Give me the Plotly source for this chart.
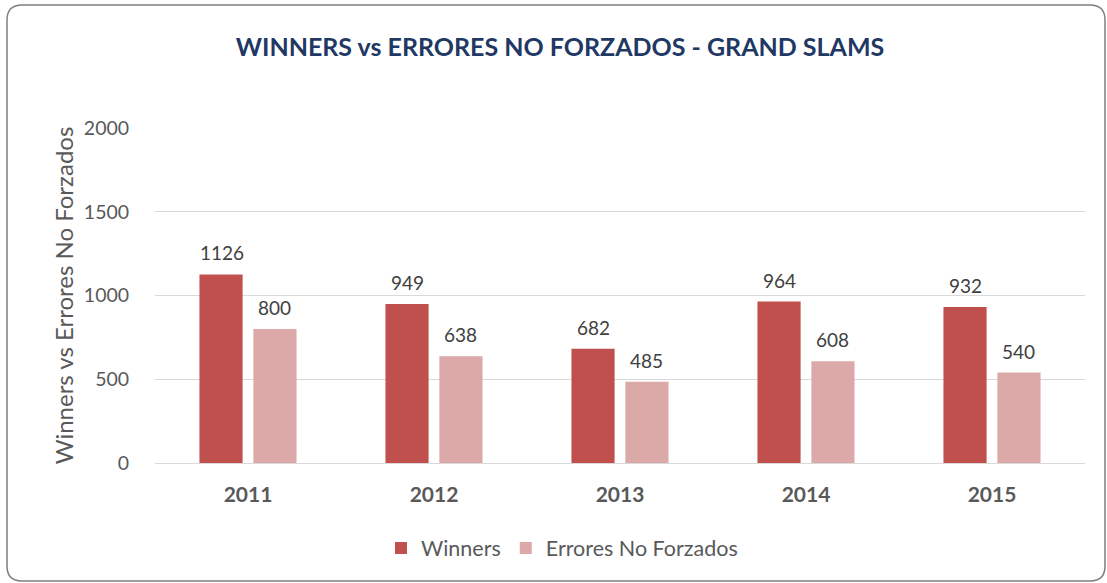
import plotly.graph_objects as go

years = ["2011", "2012", "2013", "2014", "2015"]
winners = [1126, 949, 682, 964, 932]
errores = [800, 638, 485, 608, 540]
series_names = ["Winners", "Errores No Forzados"]
y_ticks = [0, 500, 1000, 1500, 2000]

FONT = "Lato"
C_WIN = "#C0504D"
C_ERR = "#DAA9A8"
GRAY = "#595959"

W, H = 1107, 583
L, R, T, B = 155, 22, 128, 120
pw, ph = W - L - R, H - T - B

fig = go.Figure()
fig.add_trace(go.Bar(x=years, y=winners, name=series_names[0], marker_color=C_WIN,
                     marker_line_width=0))
fig.add_trace(go.Bar(x=years, y=errores, name=series_names[1], marker_color=C_ERR,
                     marker_line_width=0))

annotations = []
for i, v in enumerate(winners):
    annotations.append(dict(x=i, y=v, xref="x", yref="y", text=str(v), showarrow=False,
                            xshift=-26.5, yshift=8, yanchor="bottom",
                            font=dict(family=FONT, size=19, color="#404040")))
for i, v in enumerate(errores):
    annotations.append(dict(x=i, y=v, xref="x", yref="y", text=str(v), showarrow=False,
                            xshift=26.5, yshift=8, yanchor="bottom",
                            font=dict(family=FONT, size=19, color="#404040")))

# rounded border box in paper coordinates
def px2x(p):
    return (p - L) / pw

def px2y(p):
    return (H - B - p) / ph

x0, x1, y0, y1, r = 7, 1105, 5, 581, 15
path = (f"M {px2x(x0 + r)},{px2y(y0)} L {px2x(x1 - r)},{px2y(y0)} "
        f"Q {px2x(x1)},{px2y(y0)} {px2x(x1)},{px2y(y0 + r)} "
        f"L {px2x(x1)},{px2y(y1 - r)} Q {px2x(x1)},{px2y(y1)} {px2x(x1 - r)},{px2y(y1)} "
        f"L {px2x(x0 + r)},{px2y(y1)} Q {px2x(x0)},{px2y(y1)} {px2x(x0)},{px2y(y1 - r)} "
        f"L {px2x(x0)},{px2y(y0 + r)} Q {px2x(x0)},{px2y(y0)} {px2x(x0 + r)},{px2y(y0)} Z")

fig.update_layout(
    width=W, height=H,
    margin=dict(l=L, r=R, t=T, b=B),
    paper_bgcolor="white", plot_bgcolor="white",
    barmode="group", bargap=0.42, bargroupgap=0.2,
    title=dict(text="<b>WINNERS vs ERRORES NO FORZADOS - GRAND SLAMS</b>",
               x=560 / W, xanchor="center", xref="container",
               y=1 - 47 / H, yanchor="middle",
               font=dict(family=FONT, size=25, color="#1F3864")),
    font=dict(family=FONT, color=GRAY),
    yaxis=dict(range=[0, 2000], tickvals=y_ticks, showgrid=True, gridcolor="#D9D9D9",
               gridwidth=1.3, zeroline=False, showline=False,
               ticks="outside", ticklen=21, tickcolor="rgba(0,0,0,0)",
               tickfont=dict(family=FONT, size=19.5, color=GRAY),
               title=dict(text="Winners vs Errores No Forzados", standoff=3,
                          font=dict(family=FONT, size=24, color=GRAY))),
    xaxis=dict(type="category", range=[-0.5, 4.5], showline=True, linecolor="#D9D9D9",
               linewidth=1.3, ticks="outside", ticklen=13, tickcolor="rgba(0,0,0,0)",
               tickfont=dict(family=FONT, size=21, color=GRAY, weight="bold")),
    legend=dict(orientation="h", x=562 / W, xref="container", xanchor="center",
                y=1 - 548 / H, yref="container", yanchor="middle",
                font=dict(family=FONT, size=21.5, color=GRAY),
                itemwidth=30, traceorder="normal"),
    annotations=annotations,
    shapes=[dict(type="path", path=path, xref="paper", yref="paper",
                 line=dict(color="#7F7F7F", width=1.5), fillcolor="rgba(0,0,0,0)",
                 layer="above")],
)

fig.write_html("out.html", config={"displayModeBar": False},
               post_script="document.body.style.margin='0';")
